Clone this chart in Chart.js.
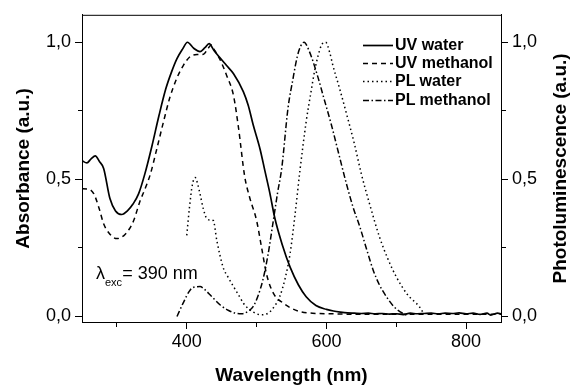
<!DOCTYPE html>
<html>
<head>
<meta charset="utf-8">
<script src="https://cdn.jsdelivr.net/npm/chart.js@4.4.1/dist/chart.umd.min.js"></script>
<style>
  html, body { margin: 0; padding: 0; background: #fff; }
  #wrap { position: relative; width: 572px; height: 387px; font-family: 'Liberation Sans', Arial, sans-serif; color: #000; }
  #chart { position: absolute; left: 0; top: 0; }
  .legend-row { position: absolute; left: 363px; height: 18px; line-height: 18px; font-size: 16px; font-weight: bold; white-space: nowrap; }
  .legend-row svg { vertical-align: top; margin-right: 2px; }
  #exc { position: absolute; left: 96px; top: 264px; font-size: 18px; line-height: 18px; white-space: nowrap; }
  #exc span { font-size: 11px; position: relative; top: 7px; }
</style>
</head>
<body>
<div id="wrap">
  <canvas id="chart" width="572" height="387"></canvas>
  <div id="legend"></div>
  <div id="exc">λ<span>exc</span>= 390 nm</div>
</div>
<script>
// --- 資料 ---
const uvWaterNm  = [250,257,263,269,275,281,290,298,307,315,323,331,340,350,360,370,378,386,394,401,410,419,426,432,439,447,457,467,481,488,495,505,512,519,526,537,548,560,571,585,600,610,620,630,640,650,660,670,680,690,700,710,720,730,740,750,760,770,780,790,800,810,820,830,835,840,845,850];
const uvWaterAbs = [0.568,0.560,0.575,0.586,0.565,0.540,0.430,0.385,0.372,0.385,0.410,0.447,0.520,0.620,0.730,0.830,0.890,0.940,0.975,1.000,0.978,0.966,0.980,0.995,0.970,0.945,0.915,0.885,0.820,0.770,0.700,0.610,0.530,0.450,0.360,0.260,0.180,0.115,0.072,0.040,0.026,0.020,0.016,0.013,0.012,0.011,0.012,0.010,0.011,0.009,0.010,0.007,0.012,0.010,0.011,0.012,0.010,0.012,0.011,0.013,0.010,0.012,0.008,0.012,0.005,0.009,0.012,0.010];

const uvMethNm  = [250,258,267,275,281,290,300,310,318,324,333,341,348,357,367,376,386,395,405,415,424,430,435,440,447,457,467,474,483,490,500,507,514,524,538,550,562,580,605,650,700,750,800,850];
const uvMethAbs = [0.466,0.465,0.447,0.390,0.338,0.300,0.284,0.295,0.320,0.350,0.420,0.470,0.520,0.610,0.713,0.800,0.870,0.915,0.948,0.955,0.956,0.975,0.990,0.970,0.940,0.880,0.805,0.690,0.510,0.435,0.350,0.254,0.157,0.085,0.049,0.030,0.018,0.012,0.010,0.008,0.008,0.008,0.008,0.008];

const plWaterNm = [400,404,408,412,416,419,424,429,434,438,443,452,460,467,475,481,490,500,507,515,522,533,541,548,555,562,571,578,583,588,593,599,605,609,619,629,640,650,663,676,688,700,716,733,740];
const plWaterPl = [0.296,0.400,0.480,0.507,0.480,0.447,0.390,0.356,0.352,0.350,0.278,0.180,0.140,0.109,0.075,0.049,0.025,0.010,0.006,0.010,0.025,0.072,0.140,0.230,0.370,0.530,0.710,0.820,0.894,0.950,0.990,1.000,0.960,0.918,0.830,0.737,0.630,0.520,0.400,0.290,0.210,0.145,0.080,0.036,0.008];

const plMethNm = [386,395,405,412,419,425,435,448,460,470,479,487,495,502,509,516,524,530,536,545,552,558,563,568,575,587,597,607,617,628,638,648,657,667,676,686,697,709,716];
const plMethPl = [0.000,0.050,0.097,0.108,0.109,0.100,0.075,0.042,0.022,0.012,0.010,0.018,0.036,0.075,0.133,0.220,0.350,0.450,0.540,0.760,0.865,0.945,0.985,1.000,0.970,0.880,0.790,0.700,0.600,0.490,0.400,0.326,0.250,0.169,0.115,0.072,0.035,0.012,0.004];

// --- 刻度 ---
const majorX = [400, 600, 800];
const minorX = [300, 500, 700];
const majorY = [0, 0.5, 1.0];
const minorY = [0.25, 0.75];

const FONT = "'Liberation Sans', Arial, sans-serif";
Chart.defaults.font.family = FONT;
Chart.defaults.color = '#000';

const toPoints = (xs, ys) => xs.map((x, i) => ({ x: x, y: ys[i] }));
const fmtY = v => majorY.includes(v) ? v.toFixed(1).replace('.', ',') : '';

function lineSet(label, xs, ys, dash, axis) {
    return {
        label: label,
        data: toPoints(xs, ys),
        yAxisID: axis,
        borderColor: '#000',
        borderWidth: dash.length ? 1.5 : 1.7,
        borderDash: dash,
        pointRadius: 0,
        fill: false,
        cubicInterpolationMode: 'monotone'
    };
}

const datasets = [
    lineSet('UV water', uvWaterNm, uvWaterAbs, [], 'y'),
    lineSet('UV methanol', uvMethNm, uvMethAbs, [5, 4], 'y'),
    lineSet('PL water', plWaterNm, plWaterPl, [1.5, 3], 'y2'),
    lineSet('PL methanol', plMethNm, plMethPl, [6, 2.5, 1.5, 2.5], 'y2')
];

// minor ticks: shorter tick marks via dash pattern
const tickDash = (minor, outerFirst) => ctx => {
    if (!minor.includes(ctx.tick.value)) return [];
    return outerFirst ? [0, 3, 4, 20] : [4, 20];
};

const yTicks = s => { s.ticks = [...majorY, ...minorY].sort((a, b) => a - b).map(v => ({ value: v })); };

const frameTop = {
    id: 'frameTop',
    afterDatasetsDraw(chart) {
        const { ctx, chartArea } = chart;
        ctx.save();
        ctx.strokeStyle = '#000';
        ctx.lineWidth = 1;
        ctx.beginPath();
        ctx.moveTo(chartArea.left, chartArea.top + 0.5);
        ctx.lineTo(chartArea.right, chartArea.top + 0.5);
        ctx.stroke();
        ctx.restore();
    }
};

const rightTitle = {
    id: 'rightTitle',
    afterDraw(chart) {
        const { ctx, chartArea, scales } = chart;
        ctx.save();
        ctx.translate(scales.y2.right - 11, (chartArea.top + chartArea.bottom) / 2);
        ctx.rotate(-Math.PI / 2);
        ctx.font = 'bold 19px ' + FONT;
        ctx.fillStyle = '#000';
        ctx.textAlign = 'center';
        ctx.textBaseline = 'middle';
        ctx.fillText('Photoluminescence (a.u.)', 0, 0);
        ctx.restore();
    }
};

const chart = new Chart(document.getElementById('chart'), {
    type: 'line',
    data: { datasets: datasets },
    options: {
        responsive: false,
        animation: false,
        devicePixelRatio: 1,
        layout: { padding: { top: 13, left: 0, right: 0, bottom: 0 } },
        plugins: { legend: { display: false }, tooltip: { enabled: false } },
        scales: {
            x: {
                type: 'linear', min: 250, max: 850,
                afterBuildTicks: s => { s.ticks = [...majorX, ...minorX].sort((a, b) => a - b).map(v => ({ value: v })); },
                afterFit: s => { s.height = 65; },
                ticks: { autoSkip: false, maxRotation: 0, padding: 2, font: { size: 18 }, color: '#000',
                         callback: v => majorX.includes(v) ? String(v) : '' },
                grid: { drawOnChartArea: false, tickLength: 7, tickColor: '#000', tickWidth: 1, tickBorderDash: tickDash(minorX, false) },
                border: { color: '#000', width: 1 },
                title: { display: true, text: 'Wavelength (nm)', font: { size: 19, weight: 'bold' }, color: '#000', padding: { top: 0, bottom: 0 } }
            },
            y: {
                type: 'linear', position: 'left', min: -0.02, max: 1.1,
                afterBuildTicks: yTicks,
                afterFit: s => { s.width = 82; },
                ticks: { autoSkip: false, padding: 4, font: { size: 18 }, color: '#000', callback: fmtY },
                grid: { drawOnChartArea: false, tickLength: 7, tickColor: '#000', tickWidth: 1, tickBorderDash: tickDash(minorY, true) },
                border: { color: '#000', width: 1 },
                title: { display: true, text: 'Absorbance (a.u.)', font: { size: 19, weight: 'bold' }, color: '#000', padding: { top: 12, bottom: 0 } }
            },
            y2: {
                type: 'linear', position: 'right', min: -0.02, max: 1.1,
                afterBuildTicks: yTicks,
                afterFit: s => { s.width = 71; },
                ticks: { autoSkip: false, padding: 4, font: { size: 18 }, color: '#000', callback: fmtY },
                grid: { drawOnChartArea: false, tickLength: 7, tickColor: '#000', tickWidth: 1, tickBorderDash: tickDash(minorY, false) },
                border: { color: '#000', width: 1 }
            }
        }
    },
    plugins: [frameTop, rightTitle]
});

// --- 圖例 (HTML，線型取自資料集) ---
const legendTops = [36, 54, 72, 91];
document.getElementById('legend').innerHTML = chart.data.datasets.map((d, i) => `
    <div class="legend-row" style="top:${legendTops[i]}px">
        <svg width="30" height="18"><line x1="0" y1="9.5" x2="30" y2="9.5" stroke="#000" stroke-width="${d.borderWidth}" stroke-dasharray="${d.borderDash.join(' ') || 'none'}"/></svg><span>${d.label}</span>
    </div>`).join('');
</script>
</body>
</html>
